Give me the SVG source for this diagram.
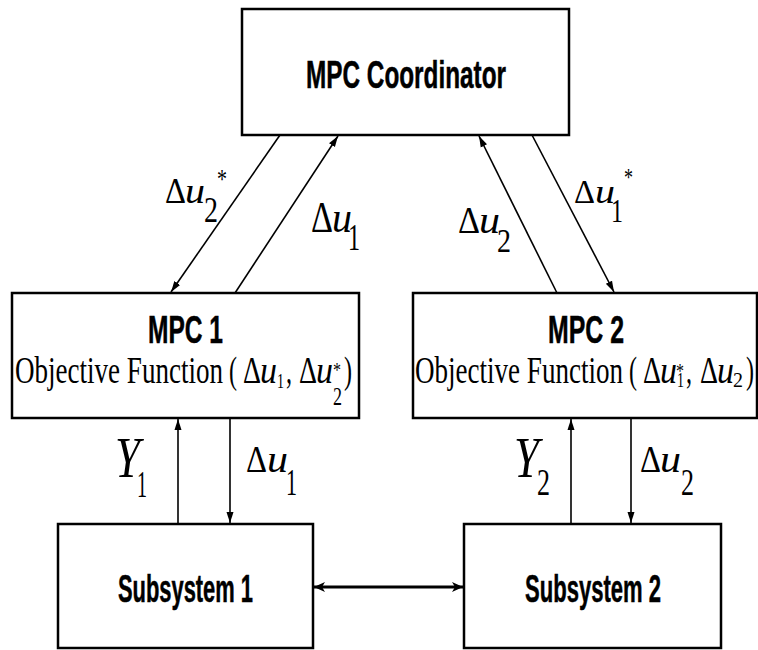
<svg xmlns="http://www.w3.org/2000/svg" width="758" height="650" viewBox="0 0 758 650">
<style>
.box{fill:#fff;stroke:#000;stroke-width:2.5}
.title{font-family:"Liberation Sans",Arial,sans-serif;font-weight:bold;fill:#000;stroke:#000;stroke-width:0.5}
.serif{font-family:"Liberation Serif","Times New Roman",serif;fill:#000}
.it{font-style:italic}
.ln{stroke:#000;stroke-width:1.6;fill:none}
.thick{stroke:#000;stroke-width:3;fill:none}
</style>
<defs>
<marker id="ah" markerUnits="userSpaceOnUse" markerWidth="12" markerHeight="10" viewBox="0 0 12 10" refX="11" refY="5" orient="auto">
<path d="M0,1.5 L11,5 L0,8.5 Z" fill="#000"/>
</marker>
<marker id="ah2" markerUnits="userSpaceOnUse" markerWidth="12" markerHeight="12" viewBox="0 0 12 12" refX="11" refY="6" orient="auto-start-reverse">
<path d="M0,1 L11,6 L0,11 L3,6 Z" fill="#000"/>
</marker>
</defs>

<g id="coordinator">
<rect class="box" x="242" y="9" width="327" height="126"/>
<text class="title" x="306" y="88" font-size="38" textLength="200" lengthAdjust="spacingAndGlyphs">MPC Coordinator</text>
</g>

<g id="mpc1">
<rect class="box" x="12" y="293" width="347" height="125"/>
<text class="title" x="148" y="343" font-size="38" textLength="75" lengthAdjust="spacingAndGlyphs">MPC 1</text>
<text class="serif" font-size="38"><tspan x="15" y="383" textLength="208" lengthAdjust="spacingAndGlyphs">Objective Function</tspan><tspan x="229" y="383" textLength="8" lengthAdjust="spacingAndGlyphs">(</tspan><tspan x="243" y="383" textLength="18" lengthAdjust="spacingAndGlyphs">Δ</tspan><tspan class="it" x="260" y="383" textLength="17" lengthAdjust="spacingAndGlyphs">u</tspan><tspan x="277" y="388" font-size="22" textLength="7" lengthAdjust="spacingAndGlyphs">1</tspan><tspan x="286" y="383" textLength="6" lengthAdjust="spacingAndGlyphs">,</tspan><tspan x="299" y="383" textLength="18" lengthAdjust="spacingAndGlyphs">Δ</tspan><tspan class="it" x="316" y="383" textLength="17" lengthAdjust="spacingAndGlyphs">u</tspan><tspan x="333" y="377" font-size="22" textLength="8" lengthAdjust="spacingAndGlyphs">*</tspan><tspan x="333" y="405" font-size="26" textLength="9" lengthAdjust="spacingAndGlyphs">2</tspan><tspan x="344" y="383" textLength="8" lengthAdjust="spacingAndGlyphs">)</tspan></text>
</g>

<g id="mpc2">
<rect class="box" x="413" y="293" width="344" height="125"/>
<text class="title" x="548" y="343" font-size="38" textLength="76" lengthAdjust="spacingAndGlyphs">MPC 2</text>
<text class="serif" font-size="38"><tspan x="415" y="383" textLength="208" lengthAdjust="spacingAndGlyphs">Objective Function</tspan><tspan x="629" y="383" textLength="8" lengthAdjust="spacingAndGlyphs">(</tspan><tspan x="643" y="383" textLength="18" lengthAdjust="spacingAndGlyphs">Δ</tspan><tspan class="it" x="660" y="383" textLength="17" lengthAdjust="spacingAndGlyphs">u</tspan><tspan x="676" y="378" font-size="22" textLength="8" lengthAdjust="spacingAndGlyphs">*</tspan><tspan x="677" y="387" font-size="22" textLength="7" lengthAdjust="spacingAndGlyphs">1</tspan><tspan x="686" y="383" textLength="6" lengthAdjust="spacingAndGlyphs">,</tspan><tspan x="700" y="383" textLength="18" lengthAdjust="spacingAndGlyphs">Δ</tspan><tspan class="it" x="717" y="383" textLength="17" lengthAdjust="spacingAndGlyphs">u</tspan><tspan x="733" y="387" font-size="22" textLength="10" lengthAdjust="spacingAndGlyphs">2</tspan><tspan x="746" y="383" textLength="8" lengthAdjust="spacingAndGlyphs">)</tspan></text>
</g>

<g id="subsystem1">
<rect class="box" x="58" y="524" width="255" height="124"/>
<text class="title" x="118" y="602" font-size="38" textLength="135" lengthAdjust="spacingAndGlyphs">Subsystem 1</text>
</g>

<g id="subsystem2">
<rect class="box" x="464" y="524" width="257" height="124"/>
<text class="title" x="525" y="602" font-size="38" textLength="136" lengthAdjust="spacingAndGlyphs">Subsystem 2</text>
</g>

<g id="connectors">
<line class="ln" x1="280" y1="135" x2="171" y2="292" marker-end="url(#ah)"/>
<line class="ln" x1="235" y1="293" x2="338" y2="136" marker-end="url(#ah)"/>
<line class="ln" x1="557" y1="293" x2="479" y2="136" marker-end="url(#ah)"/>
<line class="ln" x1="532" y1="135" x2="614" y2="292" marker-end="url(#ah)"/>
<line class="ln" x1="178" y1="523" x2="178" y2="419" marker-end="url(#ah)"/>
<line class="ln" x1="230" y1="418" x2="230" y2="523" marker-end="url(#ah)"/>
<line class="ln" x1="571" y1="523" x2="571" y2="419" marker-end="url(#ah)"/>
<line class="ln" x1="631" y1="418" x2="631" y2="523" marker-end="url(#ah)"/>
<line class="thick" x1="314" y1="587" x2="463" y2="587" marker-start="url(#ah2)" marker-end="url(#ah2)"/>
</g>

<g id="labels">
<text class="serif" font-size="35"><tspan x="165" y="203" textLength="21" lengthAdjust="spacingAndGlyphs">Δ</tspan><tspan class="it" x="185" y="203" textLength="20" lengthAdjust="spacingAndGlyphs">u</tspan><tspan x="204" y="222" font-size="35" textLength="14" lengthAdjust="spacingAndGlyphs">2</tspan><tspan x="217" y="188" font-size="28" textLength="10" lengthAdjust="spacingAndGlyphs">*</tspan></text>

<text class="serif" font-size="45"><tspan x="311" y="232" textLength="22" lengthAdjust="spacingAndGlyphs">Δ</tspan><tspan class="it" x="332" y="232" textLength="20" lengthAdjust="spacingAndGlyphs">u</tspan><tspan x="348" y="250" font-size="37" textLength="12" lengthAdjust="spacingAndGlyphs">1</tspan></text>

<text class="serif" font-size="38"><tspan x="458" y="233" textLength="22" lengthAdjust="spacingAndGlyphs">Δ</tspan><tspan class="it" x="479" y="233" textLength="21" lengthAdjust="spacingAndGlyphs">u</tspan><tspan x="497" y="252" font-size="33" textLength="14" lengthAdjust="spacingAndGlyphs">2</tspan></text>

<text class="serif" font-size="34"><tspan x="574" y="203" textLength="21" lengthAdjust="spacingAndGlyphs">Δ</tspan><tspan class="it" x="595" y="203" textLength="20" lengthAdjust="spacingAndGlyphs">u</tspan><tspan x="611" y="222" font-size="33" textLength="12" lengthAdjust="spacingAndGlyphs">1</tspan><tspan x="624" y="186" font-size="26" textLength="9" lengthAdjust="spacingAndGlyphs">*</tspan></text>

<text class="serif" font-size="56"><tspan class="it" x="115" y="477" textLength="25" lengthAdjust="spacingAndGlyphs">Y</tspan><tspan x="137" y="497" font-size="37" textLength="10" lengthAdjust="spacingAndGlyphs">1</tspan></text>

<text class="serif" font-size="38"><tspan x="246" y="472" textLength="21" lengthAdjust="spacingAndGlyphs">Δ</tspan><tspan class="it" x="267" y="472" textLength="21" lengthAdjust="spacingAndGlyphs">u</tspan><tspan x="286" y="495" font-size="37" textLength="11" lengthAdjust="spacingAndGlyphs">1</tspan></text>

<text class="serif" font-size="56"><tspan class="it" x="514" y="477" textLength="25" lengthAdjust="spacingAndGlyphs">Y</tspan><tspan x="537" y="495" font-size="37" textLength="13" lengthAdjust="spacingAndGlyphs">2</tspan></text>

<text class="serif" font-size="38"><tspan x="640" y="472" textLength="21" lengthAdjust="spacingAndGlyphs">Δ</tspan><tspan class="it" x="660" y="472" textLength="21" lengthAdjust="spacingAndGlyphs">u</tspan><tspan x="681" y="495" font-size="37" textLength="13" lengthAdjust="spacingAndGlyphs">2</tspan></text>
</g>
</svg>
